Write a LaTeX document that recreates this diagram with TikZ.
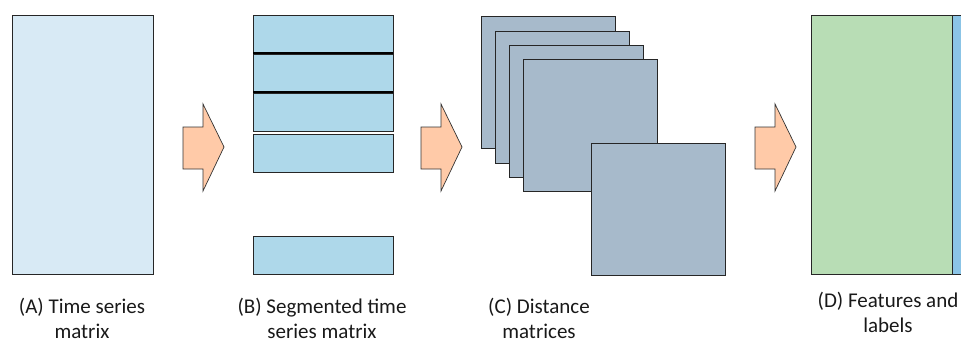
\documentclass[tikz,border=0pt]{standalone}
\usepackage{fontspec}
\setmainfont{Carlito}
\begin{document}
\begin{tikzpicture}[x=1pt,y=-1pt,
  edge/.style={draw=black!85,line width=0.8pt},
  boxA/.style={edge,fill=colA,anchor=north west,inner sep=0pt,outer sep=0pt},
  seg/.style={edge,fill=colB,anchor=north west,inner sep=0pt,outer sep=0pt,minimum width=140pt,minimum height=38pt},
  dist/.style={edge,fill=colC,anchor=north west,inner sep=0pt,outer sep=0pt,minimum width=134pt,minimum height=132pt},
  bigarrow/.style={draw=black!80,line width=0.7pt,fill=colArr,line join=miter},
  lbl/.style={align=center,font=\fontsize{21}{25}\selectfont,text=black!90,inner sep=0pt}]
\definecolor{colA}{HTML}{D8EAF5}
\definecolor{colB}{HTML}{AED8EA}
\definecolor{colC}{HTML}{A7BACB}
\definecolor{colD}{HTML}{B8DDB5}
\definecolor{colE}{HTML}{8BC4E6}
\definecolor{colArr}{HTML}{FFCAA8}
\useasboundingbox (0,0) rectangle (961,343);
% (A)
\node[boxA,minimum width=141pt,minimum height=259pt] (A) at (12,15) {};
% (B)
\node[seg] (B1) at (253,15) {};
\node[seg] (B2) at (253,54) {};
\node[seg] (B3) at (253,93) {};
\node[seg] (B4) at (253,134) {};
\node[seg] (B5) at (253,236) {};
\draw[line width=2pt,black] (B1.south west) -- (B1.south east);
\draw[line width=2pt,black] (B2.south west) -- (B2.south east);
% (C)
\node[dist] (C1) at (481,16) {};
\node[dist] (C2) at (495,31) {};
\node[dist] (C3) at (509,45) {};
\node[dist] (C4) at (523,59) {};
\node[dist] (C5) at (591,143) {};
% (D)
\fill[colE] (952,15) rectangle (962,274);
\draw[edge] (952,15) -- (962,15) (952,274) -- (962,274);
\node[boxA,fill=colD,minimum width=141pt,minimum height=259pt] (D) at (811,15) {};
% arrows
\foreach \x/\n in {183/a1,421/a2,755/a3}{
  \draw[bigarrow] (\x,127) -- (\x+20,127) -- (\x+20,104) -- (\x+41,147) -- (\x+20,191) -- (\x+20,169) -- (\x,169) -- cycle;
}
% labels
\node[lbl] (LA) at (82,318) {(A) Time series\\matrix};
\node[lbl] (LB) at (322,318) {(B) Segmented time\\series matrix};
\node[lbl] (LC) at (539,318) {(C) Distance\\matrices};
\node[lbl] (LD) at (888,312) {(D) Features and\\labels};
\end{tikzpicture}
\end{document}
